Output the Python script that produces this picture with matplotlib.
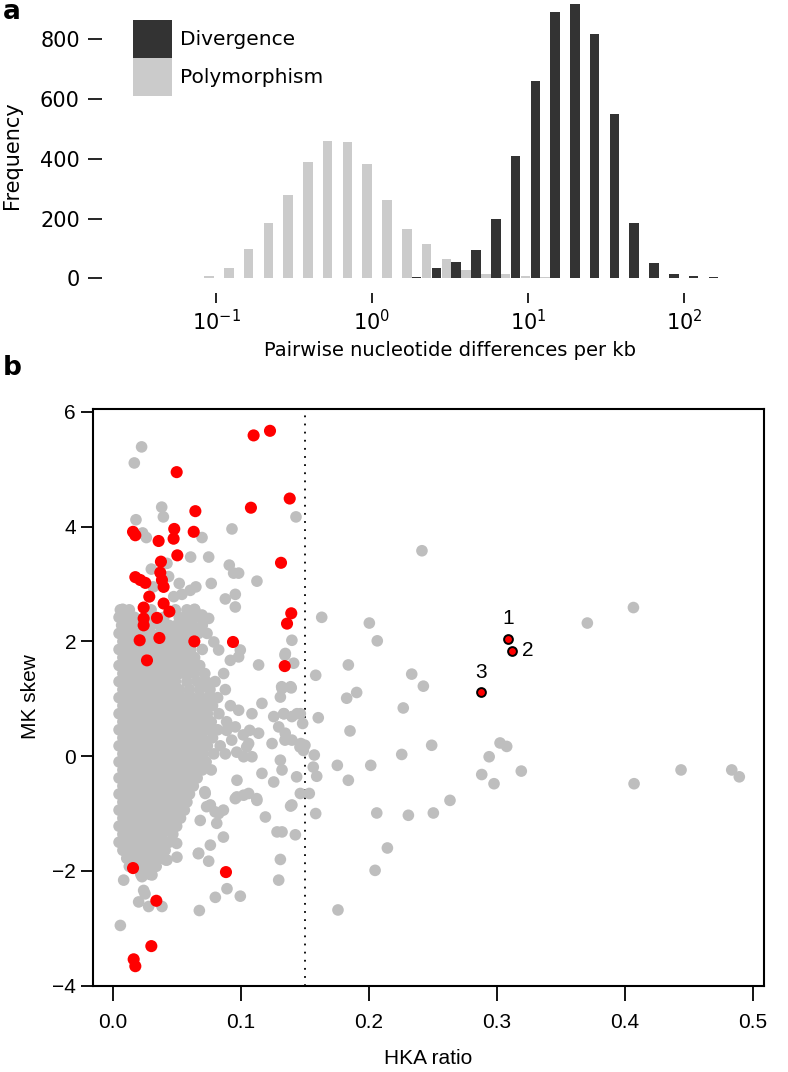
import numpy as np
import matplotlib
matplotlib.use('Agg')
import matplotlib.pyplot as plt
from matplotlib.patches import Patch
from matplotlib.ticker import NullLocator

W, H = 788, 1072

# ---------------- panel a : histogram ----------------
# log10 position of the first polymorphism bar and width of one bin (pair of bars)
first_bin_log10 = -1.5521
bin_step_log10 = 0.1268

poly_counts = [1, 1, 1, 2, 8, 35, 97, 186, 280, 390, 458, 455, 381, 262, 164,
               116, 63, 28, 14, 14, 8, 5, 2, 1, 1, 0, 0, 0, 0, 0, 0, 0, 0]
div_counts = [0, 0, 0, 0, 0, 0, 0, 0, 0, 1, 0, 1, 1, 1, 5, 35, 53, 95, 197,
              409, 659, 892, 918, 818, 549, 186, 50, 14, 8, 3, 1, 2, 1]

hist_xticks = [0.1, 1, 10, 100]
hist_xticklabels = [r'$\mathregular{10^{-1}}$', r'$\mathregular{10^{0}}$',
                    r'$\mathregular{10^{1}}$', r'$\mathregular{10^{2}}$']
hist_yticks = [0, 200, 400, 600, 800]

# ---------------- panel b : HKA ratio vs MK skew ----------------
gray_core_rows = [
    (2.55, [0.006, 0.013, 0.030, 0.049, 0.058, 0.064]),
    (2.42, [0.005, 0.011, 0.017, 0.029, 0.040, 0.052, 0.058, 0.065, 0.071]),
    (2.28, [0.007, 0.013, 0.019, 0.030, 0.037, 0.044, 0.050, 0.056, 0.062, 0.070]),
    (2.14, [0.005, 0.011, 0.017, 0.024, 0.030, 0.037, 0.043, 0.049, 0.055, 0.061, 0.067]),
    (2.00, [0.008, 0.014, 0.027, 0.033, 0.040, 0.046, 0.052, 0.058]),
    (1.86, [0.005, 0.011, 0.017, 0.024, 0.030, 0.036, 0.043, 0.049, 0.055, 0.061, 0.070]),
    (1.72, [0.008, 0.014, 0.020, 0.033, 0.039, 0.046, 0.052, 0.058, 0.064]),
    (1.58, [0.005, 0.011, 0.017, 0.024, 0.030, 0.036, 0.043, 0.049, 0.055, 0.062, 0.068]),
    (1.44, [0.008, 0.014, 0.020, 0.027, 0.033, 0.039, 0.046, 0.052, 0.058, 0.064, 0.072]),
    (1.30, [0.005, 0.011, 0.017, 0.024, 0.030, 0.036, 0.043, 0.049, 0.058, 0.066, 0.073, 0.080]),
    (1.16, [0.008, 0.014, 0.020, 0.027, 0.033, 0.039, 0.046, 0.052, 0.060, 0.068, 0.076, 0.088]),
    (1.02, [0.005, 0.011, 0.017, 0.024, 0.030, 0.036, 0.043, 0.049, 0.055, 0.062, 0.069, 0.075, 0.082]),
    (0.88, [0.008, 0.014, 0.020, 0.027, 0.033, 0.039, 0.046, 0.052, 0.058, 0.065, 0.071, 0.078, 0.092]),
    (0.74, [0.005, 0.011, 0.017, 0.024, 0.030, 0.036, 0.043, 0.049, 0.055, 0.061, 0.067, 0.074, 0.083]),
    (0.60, [0.008, 0.014, 0.020, 0.027, 0.033, 0.039, 0.046, 0.052, 0.058, 0.064, 0.071, 0.077, 0.089]),
    (0.46, [0.005, 0.011, 0.017, 0.024, 0.030, 0.036, 0.043, 0.049, 0.055, 0.061, 0.068, 0.075, 0.082]),
    (0.32, [0.008, 0.014, 0.020, 0.027, 0.033, 0.039, 0.046, 0.052, 0.058, 0.064, 0.070, 0.078]),
    (0.18, [0.005, 0.011, 0.017, 0.024, 0.030, 0.036, 0.043, 0.049, 0.055, 0.061, 0.068, 0.074, 0.084]),
    (0.04, [0.008, 0.014, 0.020, 0.027, 0.033, 0.039, 0.046, 0.052, 0.058, 0.064, 0.071, 0.079, 0.088]),
    (-0.10, [0.005, 0.011, 0.017, 0.024, 0.030, 0.036, 0.043, 0.049, 0.055, 0.061, 0.067, 0.073]),
    (-0.24, [0.008, 0.014, 0.020, 0.027, 0.033, 0.039, 0.046, 0.052, 0.058, 0.064, 0.070, 0.077]),
    (-0.38, [0.005, 0.011, 0.017, 0.024, 0.030, 0.036, 0.043, 0.049, 0.055, 0.061, 0.066]),
    (-0.52, [0.008, 0.014, 0.020, 0.027, 0.033, 0.039, 0.046, 0.052, 0.058, 0.063]),
    (-0.66, [0.005, 0.011, 0.017, 0.024, 0.030, 0.036, 0.043, 0.049, 0.055, 0.060]),
    (-0.80, [0.008, 0.014, 0.020, 0.027, 0.033, 0.039, 0.046, 0.052, 0.058]),
    (-0.94, [0.005, 0.011, 0.017, 0.024, 0.030, 0.036, 0.043, 0.049, 0.056]),
    (-1.08, [0.008, 0.014, 0.020, 0.027, 0.033, 0.039, 0.046, 0.053]),
    (-1.22, [0.005, 0.011, 0.017, 0.024, 0.030, 0.036, 0.043, 0.050]),
    (-1.36, [0.008, 0.014, 0.020, 0.027, 0.033, 0.039, 0.047]),
    (-1.50, [0.005, 0.011, 0.017, 0.024, 0.030, 0.036, 0.044]),
    (-1.64, [0.008, 0.014, 0.021, 0.028, 0.035, 0.041]),
    (-1.78, [0.011, 0.018, 0.025, 0.032, 0.039]),
    (-1.92, [0.013, 0.020, 0.027, 0.034]),
    (-2.06, [0.022, 0.029]),
]

gray_points = [
    # upper scatter, left of the 0.15 line
    (0.0226, 5.39), (0.0169, 5.11), (0.0383, 4.34), (0.0396, 4.17), (0.0182, 4.12),
    (0.0234, 3.89), (0.0263, 3.81), (0.0698, 3.81), (0.0932, 3.96), (0.1432, 4.17),
    (0.0609, 3.47), (0.0750, 3.47), (0.0911, 3.33), (0.0945, 3.19), (0.0984, 3.19),
    (0.1127, 3.05), (0.0302, 3.26), (0.0424, 3.36), (0.0437, 3.13), (0.0520, 3.01),
    (0.0650, 2.95), (0.0606, 2.89), (0.0541, 2.82), (0.0477, 2.78), (0.0770, 3.01),
    (0.0958, 2.82), (0.0880, 2.74), (0.0958, 2.60), (0.0078, 2.56), (0.0640, 2.56),
    (0.0317, 2.95),
    # ragged right edge of the cloud
    (0.0698, 2.46), (0.0750, 2.40), (0.0737, 2.14), (0.0790, 1.99), (0.0828, 1.85),
    (0.0997, 1.85), (0.0984, 1.73), (0.0919, 1.67), (0.0867, 1.44), (0.1140, 1.59),
    (0.1166, 0.92), (0.1088, 0.74), (0.0984, 0.80), (0.1258, 0.69), (0.1336, 0.74),
    (0.1400, 0.69), (0.1440, 0.74), (0.1297, 0.51), (0.1348, 0.40), (0.1400, 0.28),
    (0.1245, 0.22), (0.1140, 0.40), (0.1062, 0.22), (0.1023, -0.01), (0.1088, -0.01),
    (0.0958, 0.51), (0.1166, -0.30), (0.1258, -0.45), (0.1310, -0.07), (0.1323, -0.24),
    (0.0971, -0.42), (0.1062, -0.65), (0.1323, 1.18), (0.1395, 1.19), (0.1310, 1.03),
    (0.1400, 2.02), (0.1349, 1.79), (0.1414, 1.62), (0.1466, 0.74), (0.1470, 0.22),
    (0.1490, 0.10), (0.1466, -0.65), (0.0890, 0.45), (0.0930, 0.28), (0.1020, 0.37),
    (0.1070, 0.45), (0.1047, 0.16), (0.0969, 0.07), (0.1484, 0.57), (0.1463, 0.16),
    (0.1125, -0.74), (0.0970, -0.71), (0.0865, -0.94), (0.0734, -0.88), (0.0813, -1.17),
    (0.0800, -0.97), (0.0720, -0.62), (0.0865, -1.41), (0.0763, -1.55), (0.0672, -1.69),
    (0.0750, -1.83), (0.0502, -1.76), (0.0424, -1.81), (0.0828, -1.00), (0.0684, -1.12),
    (0.0723, -0.65), (0.0763, -0.85), (0.1023, -0.68), (0.0958, -0.74), (0.1127, -0.77),
    (0.1193, -1.06), (0.1400, -0.85), (0.1284, -1.32), (0.1323, -1.32), (0.1427, -1.37),
    (0.1310, -1.80), (0.1297, -2.16), (0.0893, -2.31), (0.0802, -2.46), (0.0997, -2.44),
    (0.0677, -2.69), (0.0385, -2.62), (0.0281, -2.62), (0.0203, -2.54), (0.0242, -2.34),
    (0.0086, -2.16), (0.0229, -2.10), (0.0307, -2.07), (0.0060, -2.95), (0.0500, -1.52),
    (0.0416, -1.81), (0.0669, -1.70), (0.1390, -0.87), (0.1437, -0.36), (0.1346, 1.76),
    (0.1390, 1.21), (0.1320, 1.21), (0.1338, 0.74), (0.1346, 0.28), (0.1502, 0.19),
    (0.0268, -1.93), (0.0320, -1.81), (0.0253, -2.40),
    # right of the 0.15 line
    (0.1633, 2.42), (0.2005, 2.32), (0.2067, 2.01), (0.1841, 1.59), (0.1586, 1.41),
    (0.2336, 1.43), (0.2427, 1.22), (0.1906, 1.11), (0.1828, 1.01), (0.2270, 0.84),
    (0.1606, 0.67), (0.1854, 0.44), (0.2492, 0.19), (0.3026, 0.23), (0.3078, 0.17),
    (0.2258, 0.03), (0.2941, -0.01), (0.1755, -0.16), (0.2016, -0.16), (0.3192, -0.26),
    (0.2883, -0.32), (0.2979, -0.48), (0.1841, -0.42), (0.4440, -0.24), (0.4836, -0.24),
    (0.4895, -0.36), (0.4073, -0.48), (0.2635, -0.77), (0.2505, -0.99), (0.2310, -1.03),
    (0.2063, -0.99), (0.4068, 2.59), (0.3708, 2.32), (0.2416, 3.58), (0.1575, 0.02),
    (0.1567, -0.19), (0.1594, -0.35), (0.1536, -0.65), (0.1586, -1.00), (0.2146, -1.60),
    (0.2050, -1.99), (0.1760, -2.68),
]

red_points = [
    (0.1101, 5.59), (0.1229, 5.67), (0.0500, 4.95), (0.1383, 4.49), (0.1080, 4.33),
    (0.0646, 4.27), (0.0159, 3.91), (0.0177, 3.85), (0.0481, 3.96), (0.0633, 3.91),
    (0.0359, 3.75), (0.0476, 3.79), (0.0505, 3.50), (0.1315, 3.37), (0.0377, 3.39),
    (0.0372, 3.20), (0.0177, 3.12), (0.0216, 3.07), (0.0255, 3.02), (0.0385, 3.07),
    (0.0398, 2.95), (0.0286, 2.78), (0.0398, 2.66), (0.0242, 2.59), (0.0443, 2.52),
    (0.1395, 2.49), (0.1362, 2.31), (0.0242, 2.40), (0.0242, 2.28), (0.0346, 2.41),
    (0.0211, 2.02), (0.0365, 2.06), (0.0638, 2.00), (0.0940, 1.99), (0.0268, 1.67),
    (0.1344, 1.57), (0.0159, -1.95), (0.0885, -2.02), (0.0341, -2.52), (0.0302, -3.31),
    (0.0164, -3.54), (0.0177, -3.66),
]

labelled_x = [0.3086, 0.3122, 0.2877]
labelled_y = [2.04, 1.84, 1.12]
labelled_names = ['1', '2', '3']
hka_cutoff = 0.15

scatter_xticks = [0.0, 0.1, 0.2, 0.3, 0.4, 0.5]
scatter_yticks = [-4, -2, 0, 2, 4, 6]


def fig_xy(px, py):
    return px / W, 1 - py / H


fig = plt.figure(figsize=(W / 100, H / 100), dpi=100)

# ---- panel a ----
top_font = 'DejaVu Sans'
ax1 = fig.add_axes([102 / W, 1 - 278.3 / H, (W - 102) / W, 278.3 / H])
ax1.set_xscale('log')

centres = first_bin_log10 + bin_step_log10 * np.arange(len(poly_counts))
half_w = bin_step_log10 / 4 * 0.97


def log_bars(ax, c_log, counts, color):
    lefts = 10 ** (c_log - half_w)
    widths = 10 ** (c_log + half_w) - lefts
    ax.bar(lefts, counts, width=widths, align='edge', color=color, linewidth=0)


log_bars(ax1, centres, poly_counts, '#cbcbcb')
log_bars(ax1, centres + bin_step_log10 / 2, div_counts, '#333333')

ax1.set_xlim(10 ** -1.731, 10 ** 2.667)
ax1.set_ylim(0, 931.5)
for s in ax1.spines.values():
    s.set_visible(False)
ax1.spines['bottom'].set_position(('outward', 10.8))
ax1.xaxis.set_minor_locator(NullLocator())
ax1.set_xticks(hist_xticks)
ax1.set_xticklabels(hist_xticklabels)
ax1.set_yticks(hist_yticks)
ax1.tick_params(axis='x', length=7, width=1.2, pad=4, labelsize=15)
ax1.tick_params(axis='y', length=10, width=1.2, pad=6, labelsize=15)
for lab in ax1.get_xticklabels() + ax1.get_yticklabels():
    lab.set_fontfamily(top_font)

handles = [Patch(facecolor='#333333', edgecolor='none'),
           Patch(facecolor='#cbcbcb', edgecolor='none')]
fig.legend(handles, ['Divergence', 'Polymorphism'], loc='upper left',
           bbox_to_anchor=fig_xy(133, 20), bbox_transform=fig.transFigure,
           frameon=False, borderpad=0, borderaxespad=0, labelspacing=0,
           handlelength=1.94, handleheight=2.53, handletextpad=0.4,
           prop={'family': top_font, 'size': 14.5})

fig.text(*fig_xy(12, 155), 'Frequency', rotation=90, ha='center', va='center',
         fontsize=15, family=top_font)
fig.text(*fig_xy(450, 350), 'Pairwise nucleotide differences per kb',
         ha='center', va='center', fontsize=14, family=top_font)
fig.text(*fig_xy(3, 19), 'a', ha='left', va='baseline', fontsize=19,
         fontweight='bold', family=top_font)

# ---- panel b ----
bot_font = 'Liberation Sans'
ax2 = fig.add_axes([92.7 / W, 1 - 985.7 / H, 671.3 / W, 576.4 / H])

core_x = [x for y, xs in gray_core_rows for x in xs]
core_y = [y for y, xs in gray_core_rows for x in xs]
gx = core_x + [p[0] for p in gray_points]
gy = core_y + [p[1] for p in gray_points]
ax2.scatter(gx, gy, s=70, c='#bebebe', edgecolors='none', zorder=2)
ax2.scatter([p[0] for p in red_points], [p[1] for p in red_points], s=76,
            c='#ff0000', edgecolors='none', zorder=3)
ax2.scatter(labelled_x, labelled_y, s=40, c='#ff0000', edgecolors='black',
            linewidths=1.4, zorder=4)

offsets = {'1': (0, 15), '2': (11, 0), '3': (0, 14)}
for x, y, name in zip(labelled_x, labelled_y, labelled_names):
    ax2.annotate(name, (x, y), xytext=offsets[name], textcoords='offset points',
                 ha='center', va='center', fontsize=15, family=bot_font)

ax2.axvline(hka_cutoff, color='black', lw=1.3, linestyle=(0, (1, 3.5)),
            dash_capstyle='butt', zorder=1)

ax2.set_xlim(-0.0156, 0.5088)
ax2.set_ylim(-4.0, 6.045)
ax2.set_xticks(scatter_xticks)
ax2.set_xticklabels(['%.1f' % v for v in scatter_xticks])
ax2.set_yticks(scatter_yticks)
for s in ax2.spines.values():
    s.set_linewidth(1.5)
ax2.tick_params(axis='x', length=11, width=1.3, pad=9, labelsize=15)
ax2.tick_params(axis='y', length=9, width=1.3, pad=3, labelsize=15)
for lab in ax2.get_xticklabels() + ax2.get_yticklabels():
    lab.set_fontfamily(bot_font)

fig.text(*fig_xy(30, 697), 'MK skew', rotation=90, ha='center', va='center',
         fontsize=15, family=bot_font)
fig.text(*fig_xy(428, 1058), 'HKA ratio', ha='center', va='center',
         fontsize=15, family=bot_font)
fig.text(*fig_xy(3, 375), 'b', ha='left', va='baseline', fontsize=19,
         fontweight='bold', family=top_font)

fig.savefig('out.png', dpi=100)
